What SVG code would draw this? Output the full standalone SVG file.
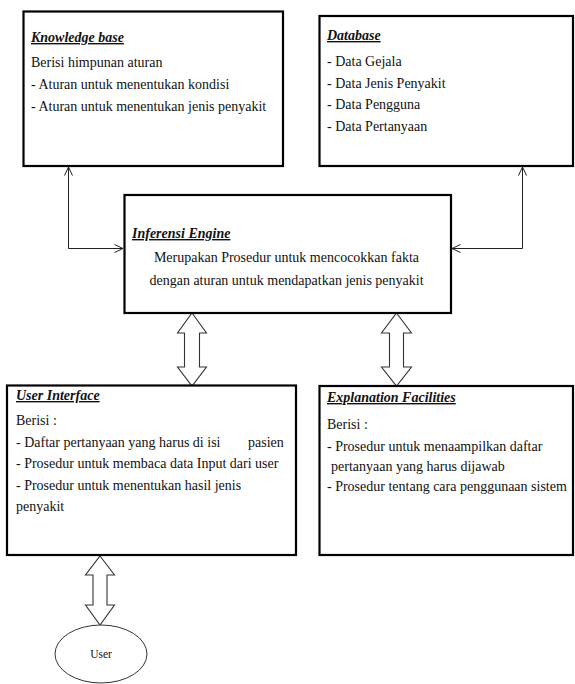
<svg xmlns="http://www.w3.org/2000/svg" width="575" height="684" viewBox="0 0 575 684">
<style>
  .box { fill: #fff; stroke: #000; stroke-width: 2.2; }
  .t { font-family: "Liberation Serif", "Times New Roman", serif; font-size: 14px; fill: #111; }
  .ttl { font-family: "Liberation Serif", "Times New Roman", serif; font-size: 14px; font-weight: bold; font-style: italic; text-decoration: underline; fill: #111; }
  .con { fill: none; stroke: #222; stroke-width: 1; }
  .blk { fill: #fff; stroke: #333; stroke-width: 1.1; stroke-linejoin: miter; }
</style>
<defs>
  <marker id="open" viewBox="0 0 10 10" refX="9.5" refY="5" markerWidth="10" markerHeight="10" markerUnits="userSpaceOnUse" orient="auto-start-reverse">
    <path d="M1,1 L9.5,5 L1,9" fill="none" stroke="#222" stroke-width="1"/>
  </marker>
</defs>
<rect width="575" height="684" fill="#fff"/>

<g id="connectors">
  <path class="con" d="M68.5,167 V248.5 H123" marker-start="url(#open)" marker-end="url(#open)"/>
  <path class="con" d="M522.5,167 V248.5 H452" marker-start="url(#open)" marker-end="url(#open)"/>
  <polygon class="blk" points="192,313 206.5,333 199.5,333 199.5,367 206.5,367 192,386 177.5,367 184.5,367 184.5,333 177.5,333"/>
  <polygon class="blk" points="396.5,313 411.5,333 403.5,333 403.5,367 411.5,367 396.5,386 381.5,367 389.5,367 389.5,333 381.5,333"/>
  <polygon class="blk" points="100,556 114.5,575 107,575 107,605 114.5,605 100,625 85.5,605 93,605 93,575 85.5,575"/>
</g>

<g id="knowledge-base">
  <rect class="box" x="23.5" y="11.5" width="259.5" height="154.5"/>
  <text class="ttl" x="31" y="42">Knowledge base</text>
  <text class="t" x="31" y="66.5">Berisi himpunan aturan</text>
  <text class="t" x="31" y="88.5">- Aturan untuk menentukan kondisi</text>
  <text class="t" x="31" y="110.5">- Aturan untuk menentukan jenis penyakit</text>
</g>

<g id="database">
  <rect class="box" x="319.5" y="16" width="253.5" height="150"/>
  <text class="ttl" x="327" y="40">Database</text>
  <text class="t" x="327" y="66">- Data Gejala</text>
  <text class="t" x="327" y="87.5">- Data Jenis Penyakit</text>
  <text class="t" x="327" y="109">- Data Pengguna</text>
  <text class="t" x="327" y="130.5">- Data Pertanyaan</text>
</g>

<g id="inferensi-engine">
  <rect class="box" x="124.5" y="195" width="326.5" height="118"/>
  <text class="ttl" x="132" y="238">Inferensi Engine</text>
  <text class="t" x="286.5" y="262" text-anchor="middle">Merupakan Prosedur untuk mencocokkan fakta</text>
  <text class="t" x="286.5" y="285" text-anchor="middle">dengan aturan untuk mendapatkan jenis penyakit</text>
</g>

<g id="user-interface">
  <rect class="box" x="7" y="385.5" width="289" height="169.5"/>
  <text class="ttl" x="16" y="400">User Interface</text>
  <text class="t" x="16" y="424.5">Berisi :</text>
  <text class="t" x="16" y="447">- Daftar pertanyaan yang harus di isi</text>
  <text class="t" x="248" y="447">pasien</text>
  <text class="t" x="16" y="468">- Prosedur untuk membaca data Input dari user</text>
  <text class="t" x="16" y="489.5">- Prosedur untuk menentukan hasil jenis</text>
  <text class="t" x="16" y="511">penyakit</text>
</g>

<g id="explanation-facilities">
  <rect class="box" x="319.5" y="386" width="253.5" height="169"/>
  <text class="ttl" x="327" y="402">Explanation Facilities</text>
  <text class="t" x="327" y="428.5">Berisi :</text>
  <text class="t" x="327" y="451">- Prosedur untuk menaampilkan daftar</text>
  <text class="t" x="331" y="471">pertanyaan yang harus dijawab</text>
  <text class="t" x="327" y="491">- Prosedur tentang cara penggunaan sistem</text>
</g>

<g id="user">
  <ellipse cx="101" cy="654" rx="46" ry="29" fill="#fff" stroke="#333" stroke-width="1"/>
  <text class="t" x="101" y="658" text-anchor="middle" style="font-size:11.5px">User</text>
</g>
</svg>
